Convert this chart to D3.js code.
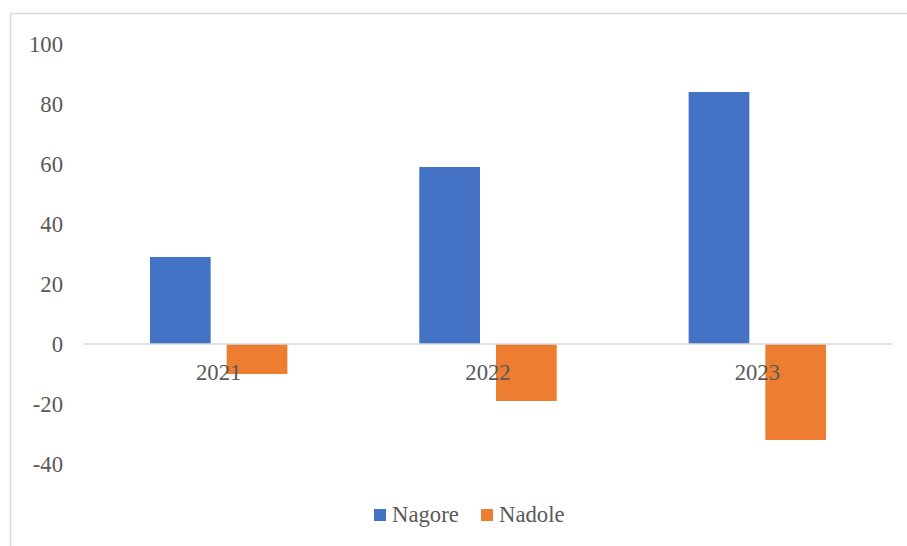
<!DOCTYPE html>
<html>
<head>
<meta charset="utf-8">
<script src="https://cdn.jsdelivr.net/npm/d3@7"></script>
<style>
  html, body { margin: 0; padding: 0; background: #fff; }
  svg { display: block; }
</style>
</head>
<body>
<svg id="chart" width="907" height="546"></svg>
<script>
// Data
const years = ["2021", "2022", "2023"];
const seriesNames = ["Nagore", "Nadole"];
const nagore = [29, 59, 84];
const nadole = [-10, -19, -32];
const yTicks = [-40, -20, 0, 20, 40, 60, 80, 100];
const colors = ["#4472C4", "#ED7D31"];

const FONT = "Liberation Serif";
const FONT_SIZE = 22.7;
const TEXT_COLOR = "#595959";

const svg = d3.select("#chart");

// Outer chart frame (extends past the right/bottom edges of the view)
svg.append("rect")
  .attr("x", 10.5).attr("y", 13.5)
  .attr("width", 1200).attr("height", 1200)
  .attr("fill", "none").attr("stroke", "#d9d9d9").attr("stroke-width", 1.5);

const plotLeft = 84, plotRight = 892;
const y = d3.scaleLinear().domain([-40, 100]).range([464, 44]);
const x0 = d3.scaleBand().domain(years).range([plotLeft, plotRight]).padding(0);
const x1 = d3.scaleBand().domain(seriesNames).range([0, x0.bandwidth()])
  .paddingInner(0.2086).paddingOuter(0.86);

// Y axis labels (no axis line, no ticks)
const yAxis = d3.axisLeft(y).tickValues(yTicks).tickSize(0).tickPadding(0)
  .tickFormat(d => String(d));
const gy = svg.append("g").attr("transform", "translate(63,0)").call(yAxis);
gy.attr("font-family", FONT).attr("font-size", FONT_SIZE);
gy.select(".domain").remove();
gy.selectAll("text")
  .attr("font-family", FONT)
  .attr("font-size", FONT_SIZE)
  .attr("fill", TEXT_COLOR);

// Bars
const rows = years.map((yr, i) => ({ year: yr, values: [nagore[i], nadole[i]] }));
const groups = svg.append("g").selectAll("g").data(rows).join("g")
  .attr("transform", d => `translate(${x0(d.year)},0)`);
groups.selectAll("rect")
  .data(d => d.values.map((v, k) => ({ name: seriesNames[k], value: v, k })))
  .join("rect")
  .attr("x", d => x1(d.name))
  .attr("width", x1.bandwidth())
  .attr("y", d => d.value >= 0 ? y(d.value) : y(0))
  .attr("height", d => Math.abs(y(d.value) - y(0)))
  .attr("fill", d => colors[d.k]);

// Zero (category) axis line
svg.append("line")
  .attr("x1", plotLeft).attr("x2", plotRight)
  .attr("y1", y(0)).attr("y2", y(0))
  .attr("stroke", "#d9d9d9").attr("stroke-width", 1.5);

// Category labels drawn over the bars
svg.append("g").selectAll("text").data(years).join("text")
  .attr("x", d => x0(d) + x0.bandwidth() / 2)
  .attr("y", 380)
  .attr("text-anchor", "middle")
  .attr("font-family", FONT)
  .attr("font-size", FONT_SIZE)
  .attr("fill", TEXT_COLOR)
  .text(d => d);

// Legend
const legendX = [374, 481];
const legend = svg.append("g").selectAll("g").data(seriesNames).join("g")
  .attr("transform", (d, i) => `translate(${legendX[i]},0)`);
legend.append("rect")
  .attr("x", 0).attr("y", 509).attr("width", 12).attr("height", 12)
  .attr("fill", (d, i) => colors[i]);
legend.append("text")
  .attr("x", 18).attr("y", 522)
  .attr("font-family", FONT)
  .attr("font-size", FONT_SIZE)
  .attr("fill", TEXT_COLOR)
  .text(d => d);
</script>
</body>
</html>
